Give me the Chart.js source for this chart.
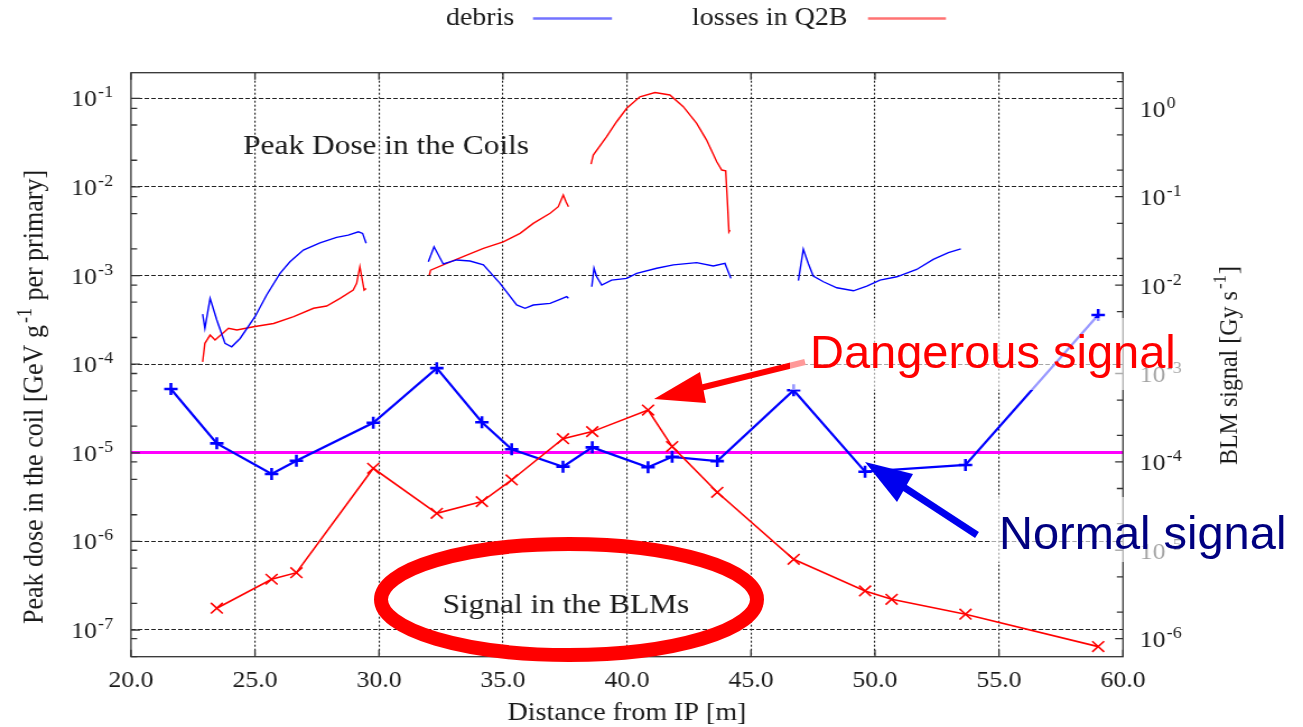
<!DOCTYPE html>
<html lang="en">
<head>
<meta charset="UTF-8" />
<title>Peak dose in the coils and BLM signal</title>
<script src="https://cdn.jsdelivr.net/npm/chart.js"></script>
<style>
  body { margin: 0; background: #fff; overflow: hidden; }
  #stage { position: relative; width: 1303px; height: 727px; }
  /* the plot is drawn narrower and widened, like the original gnuplot export */
  #plotWrap { position: absolute; left: 0; top: 0; transform-origin: 0 0; transform: scaleX(1.1204); }
  #marks { position: absolute; left: 0; top: 0; }
  .veil { position: absolute; background: rgba(255,255,255,0.6); }
  .note {
    position: absolute;
    font-family: "Liberation Sans", Arial, sans-serif;
    font-size: 47px;
    line-height: 1;
    white-space: nowrap;
  }
</style>
</head>
<body>
<div id="stage">
  <div id="plotWrap"><canvas id="doseChart" width="1163" height="727"></canvas></div>

  <svg id="marks" width="1303" height="727">
    <ellipse cx="569" cy="599.5" rx="188" ry="55.5" fill="none" stroke="#ff0000" stroke-width="14"/>
    <line x1="805" y1="362" x2="700" y2="388" stroke="#ff0000" stroke-width="6"/>
    <polygon points="654,399 700,372 706,403" fill="#ff0000"/>
    <line x1="977" y1="535" x2="902" y2="486" stroke="#0000ee" stroke-width="7"/>
    <polygon points="865,462 897,502 913,474" fill="#0000ee"/>
  </svg>

  <div class="veil" style="left:790px; top:318px; width:400px; height:72px;"></div>
  <div class="note" style="left:810px; top:328px; color:#ff0000;">Dangerous signal</div>
  <div class="veil" style="left:990px; top:497px; width:310px; height:65px;"></div>
  <div class="note" style="left:999px; top:509px; color:#000080;">Normal signal</div>
</div>

<script>
  // peak dose in the coils [GeV/g per primary], one piece per magnet: [distance (m), dose]
  const debrisCoil1 = [[22.89,3.67e-4],[22.98,2.54e-4],[23.19,5.53e-4],[23.46,3.15e-4],[23.79,1.72e-4],[24.06,1.57e-4],[24.40,1.95e-4],[25.00,3.43e-4],[25.47,6.03e-4],[26.01,1.06e-3],[26.41,1.43e-3],[26.95,1.94e-3],[27.62,2.34e-3],[28.29,2.70e-3],[28.76,2.86e-3],[29.17,3.12e-3],[29.34,2.99e-3],[29.48,2.31e-3]];
  const debrisCoil2 = [[31.99,1.43e-3],[32.22,2.11e-3],[32.59,1.35e-3],[33.13,1.50e-3],[33.67,1.46e-3],[34.21,1.32e-3],[34.88,8.17e-4],[35.55,4.65e-4],[35.89,4.27e-4],[36.22,4.65e-4],[36.90,4.85e-4],[37.30,5.38e-4],[37.57,5.77e-4],[37.64,5.53e-4]];
  const debrisCoil3 = [[38.58,7.48e-4],[38.67,1.21e-3],[38.78,9.68e-4],[38.98,7.82e-4],[39.38,8.89e-4],[39.99,9.29e-4],[40.39,1.06e-3],[41.20,1.21e-3],[41.87,1.32e-3],[42.81,1.40e-3],[43.48,1.28e-3],[43.95,1.37e-3],[44.19,9.29e-4]];
  const debrisCoil4 = [[46.91,8.75e-4],[47.11,1.98e-3],[47.31,1.37e-3],[47.51,9.86e-4],[47.92,8.51e-4],[48.46,7.28e-4],[49.13,6.73e-4],[49.67,7.60e-4],[50.20,8.89e-4],[50.88,9.68e-4],[51.68,1.17e-3],[52.35,1.52e-3],[52.96,1.81e-3],[53.46,2.00e-3]];

  const lossesCoil1 = [[22.89,1.06e-4],[22.98,1.72e-4],[23.19,2.13e-4],[23.39,1.87e-4],[23.93,2.54e-4],[24.27,2.43e-4],[24.94,2.64e-4],[25.75,2.88e-4],[26.56,3.43e-4],[27.36,4.27e-4],[27.89,4.53e-4],[28.43,5.53e-4],[28.96,6.85e-4],[29.10,8.17e-4],[29.23,1.26e-3],[29.34,8.51e-4],[29.40,6.85e-4],[29.48,7.16e-4]];
  const lossesCoil2 = [[32.03,1.01e-3],[32.08,1.15e-3],[32.73,1.37e-3],[33.54,1.70e-3],[34.21,2.03e-3],[35.01,2.40e-3],[35.69,2.99e-3],[36.22,3.88e-3],[36.90,5.04e-3],[37.23,5.98e-3],[37.43,8.11e-3],[37.54,6.81e-3],[37.64,5.98e-3]];
  const lossesCoil3 = [[38.55,1.81e-2],[38.64,2.29e-2],[39.18,3.69e-2],[39.58,5.44e-2],[39.99,7.71e-2],[40.52,0.104],[41.13,0.116],[41.73,0.109],[42.27,8.04e-2],[42.81,5.22e-2],[43.21,3.38e-2],[43.62,1.92e-2],[43.82,1.55e-2],[43.98,1.52e-2],[44.06,5.98e-3],[44.11,3.12e-3],[44.15,3.26e-3]];

  // BLM signal [Gy/s] at the monitor positions
  const blmPos    = [21.61, 23.46, 25.67, 26.67, 29.77, 32.33, 34.15, 35.35, 37.42, 38.60, 40.85, 41.82, 43.64, 46.72, 49.60, 50.67, 53.65, 59.00];
  const blmDebris = [6.68e-4, 1.62e-4, 7.30e-5, 1.03e-4, 2.77e-4, 1.15e-3, 2.81e-4, 1.39e-4, 8.83e-5, 1.46e-4, 8.69e-5, 1.14e-4, 1.02e-4, 6.46e-4, 7.74e-5, null, 9.23e-5, 4.59e-3];
  const blmLosses = [null, 2.21e-6, 4.70e-6, 5.58e-6, 8.47e-5, 2.62e-5, 3.55e-5, 6.24e-5, 1.83e-4, 2.20e-4, 3.86e-4, 1.49e-4, 4.53e-5, 7.91e-6, 3.47e-6, 2.79e-6, 1.89e-6, 8.13e-7];
  const blmThreshold = 1.28e-4;

  const xTicks = [20, 25, 30, 35, 40, 45, 50, 55, 60];
  const leftDecades = [-1, -2, -3, -4, -5, -6, -7];
  const rightDecades = [0, -1, -2, -3, -4, -5, -6];

  const SERIF = '"Liberation Serif", "DejaVu Serif", serif';
  const INK = '#1a1a1a';

  // "10" with a raised exponent, anchored at its right or left end
  function power(ctx, exp, x, y, align) {
    ctx.font = `23px ${SERIF}`;
    const wb = ctx.measureText('10').width;
    ctx.font = `16px ${SERIF}`;
    const ws = ctx.measureText(exp).width;
    const x0 = align === 'right' ? x - wb - ws - 1 : x;
    ctx.font = `23px ${SERIF}`;
    ctx.fillText('10', x0, y);
    ctx.font = `16px ${SERIF}`;
    ctx.fillText(exp, x0 + wb + 1, y - 9);
  }

  // centred text made of plain and superscript runs
  function runs(ctx, parts, x, y, size) {
    const widths = parts.map(([t, sup]) => {
      ctx.font = `${sup ? Math.round(size * 0.7) : size}px ${SERIF}`;
      return ctx.measureText(t).width + (sup ? 3 : 0);
    });
    let cx = x - widths.reduce((a, b) => a + b, 0) / 2;
    parts.forEach(([t, sup], i) => {
      ctx.font = `${sup ? Math.round(size * 0.7) : size}px ${SERIF}`;
      ctx.fillText(t, sup ? cx + 2 : cx, sup ? y - size * 0.4 : y);
      cx += widths[i];
    });
  }

  const gnuplotFrame = {
    id: 'gnuplotFrame',
    beforeDraw(chart) {
      const ctx = chart.ctx;
      ctx.save();
      ctx.fillStyle = INK;
      ctx.textAlign = 'left';
      ctx.textBaseline = 'alphabetic';
      ctx.font = `28px ${SERIF}`;
      ctx.fillText('Peak Dose in the Coils', 217, 154);
      ctx.fillText('Signal in the BLMs', 395, 612.5);
      ctx.restore();
    },
    afterDraw(chart) {
      const {ctx, chartArea: a, scales: {x, y, y2}} = chart;
      ctx.save();
      ctx.strokeStyle = '#333';
      ctx.lineWidth = 1.3;
      ctx.strokeRect(a.left, a.top, a.right - a.left, a.bottom - a.top);

      // tick marks point into the plot
      ctx.beginPath();
      const seg = (x1, y1, x2, y3) => { ctx.moveTo(x1, y1); ctx.lineTo(x2, y3); };
      for (let d = -8; d <= 1; d++) {
        for (const m of [1, 2, 5]) {
          const v = m * Math.pow(10, d);
          if (v >= y.min && v <= y.max) {
            const p = y.getPixelForValue(v);
            seg(a.left, p, a.left + (m === 1 ? 8 : 5.5), p);
          }
          if (v >= y2.min && v <= y2.max) {
            const p = y2.getPixelForValue(v);
            seg(a.right, p, a.right - (m === 1 ? 7 : 5.5), p);
            if (m === 1) seg(a.left, p, a.left + 5.5, p);
          }
        }
      }
      xTicks.forEach(v => {
        const p = x.getPixelForValue(v);
        seg(p, a.bottom, p, a.bottom - 7);
        seg(p, a.top, p, a.top + 7);
      });
      ctx.stroke();

      // decade labels on both log axes
      ctx.fillStyle = INK;
      ctx.textAlign = 'left';
      ctx.textBaseline = 'alphabetic';
      leftDecades.forEach(d => power(ctx, String(d), a.left - 16, y.getPixelForValue(Math.pow(10, d)) + 8, 'right'));
      rightDecades.forEach(d => power(ctx, String(d), a.right + 15, y2.getPixelForValue(Math.pow(10, d)) + 8.5, 'left'));

      // axis titles, both read bottom to top
      ctx.save();
      ctx.translate(38.4, 397);
      ctx.rotate(-Math.PI / 2);
      runs(ctx, [['Peak dose in the coil [GeV g', false], ['-1', true], [' per primary]', false]], 0, 0, 26);
      ctx.restore();
      ctx.save();
      ctx.translate(1104, 365.5);
      ctx.rotate(-Math.PI / 2);
      runs(ctx, [['BLM signal [Gy s', false], ['-1', true], [']', false]], 0, 0, 24);
      ctx.restore();

      // key: label first, sample line after it
      ctx.font = `25px ${SERIF}`;
      ctx.fillText('debris', 398, 25);
      ctx.fillText('losses in Q2B', 617.6, 25);
      ctx.lineWidth = 2.5;
      ctx.strokeStyle = 'rgba(0,0,255,0.55)';
      ctx.beginPath(); ctx.moveTo(475.7, 18.5); ctx.lineTo(546.2, 18.5); ctx.stroke();
      ctx.strokeStyle = 'rgba(255,0,0,0.55)';
      ctx.beginPath(); ctx.moveTo(774.7, 18.5); ctx.lineTo(844.3, 18.5); ctx.stroke();
      ctx.restore();
    }
  };

  const coil = (pts, color) => ({
    data: pts.map(([px, py]) => ({x: px, y: py})),
    borderColor: color,
    borderWidth: 1.4,
    pointRadius: 0,
    yAxisID: 'y'
  });

  const datasets = [
    coil(debrisCoil1, '#0000ff'), coil(debrisCoil2, '#0000ff'),
    coil(debrisCoil3, '#0000ff'), coil(debrisCoil4, '#0000ff'),
    coil(lossesCoil1, '#ff0000'), coil(lossesCoil2, '#ff0000'), coil(lossesCoil3, '#ff0000'),
    {
      data: blmPos.map((px, i) => ({x: px, y: blmLosses[i]})),
      borderColor: '#ff0000', borderWidth: 1.6, spanGaps: true,
      pointStyle: 'crossRot', pointRadius: 7.5, pointBorderWidth: 1.6,
      pointBorderColor: '#ff0000', yAxisID: 'y2'
    },
    {
      data: blmPos.map((px, i) => ({x: px, y: blmDebris[i]})),
      borderColor: '#0000ff', borderWidth: 2.2, spanGaps: true,
      pointStyle: 'cross', pointRadius: 6, pointBorderWidth: 2.6,
      pointBorderColor: '#0000ff', yAxisID: 'y2'
    },
    {
      data: [{x: 20, y: blmThreshold}, {x: 60, y: blmThreshold}],
      borderColor: '#ff00ff', borderWidth: 3, pointRadius: 0, yAxisID: 'y2'
    }
  ];

  const fixTicks = decades => scale => {
    scale.ticks = decades.map(d => ({value: Math.pow(10, d)}));
  };

  new Chart(document.getElementById('doseChart'), {
    type: 'line',
    data: {datasets},
    options: {
      responsive: false,
      animation: false,
      devicePixelRatio: 1,
      layout: {padding: {top: 72.7, left: 0, right: 0, bottom: 0}},
      plugins: {legend: {display: false}, tooltip: {enabled: false}},
      scales: {
        x: {
          type: 'linear', min: 20, max: 60,
          afterFit: s => { s.height = 70.3; },
          grid: {
            color: c => (c.tick && (c.tick.value === 20 || c.tick.value === 60)) ? 'rgba(0,0,0,0)' : '#222',
            lineWidth: 1.1, drawTicks: false
          },
          border: {display: false, dash: [2, 2]},
          ticks: {
            stepSize: 5, padding: 10, maxRotation: 0, color: INK,
            font: {family: SERIF, size: 23},
            callback: v => Number(v).toFixed(1)
          },
          title: {
            display: true, text: 'Distance from IP [m]', color: INK,
            font: {family: SERIF, size: 25, lineHeight: 1},
            padding: {top: 0, bottom: 1}
          }
        },
        y: {
          type: 'logarithmic', position: 'left', min: 5.0e-8, max: 0.1945,
          afterBuildTicks: fixTicks(leftDecades),
          afterFit: s => { s.width = 116.9; },
          grid: {color: '#222', lineWidth: 1.1, drawTicks: false},
          border: {display: false, dash: [4, 2]},
          ticks: {display: false}
        },
        y2: {
          type: 'logarithmic', position: 'right', min: 6.25e-7, max: 2.53,
          afterBuildTicks: fixTicks(rightDecades),
          afterFit: s => { s.width = 160.7; },
          grid: {drawOnChartArea: false, drawTicks: false},
          border: {display: false},
          ticks: {display: false}
        }
      }
    },
    plugins: [gnuplotFrame]
  });
</script>
</body>
</html>
